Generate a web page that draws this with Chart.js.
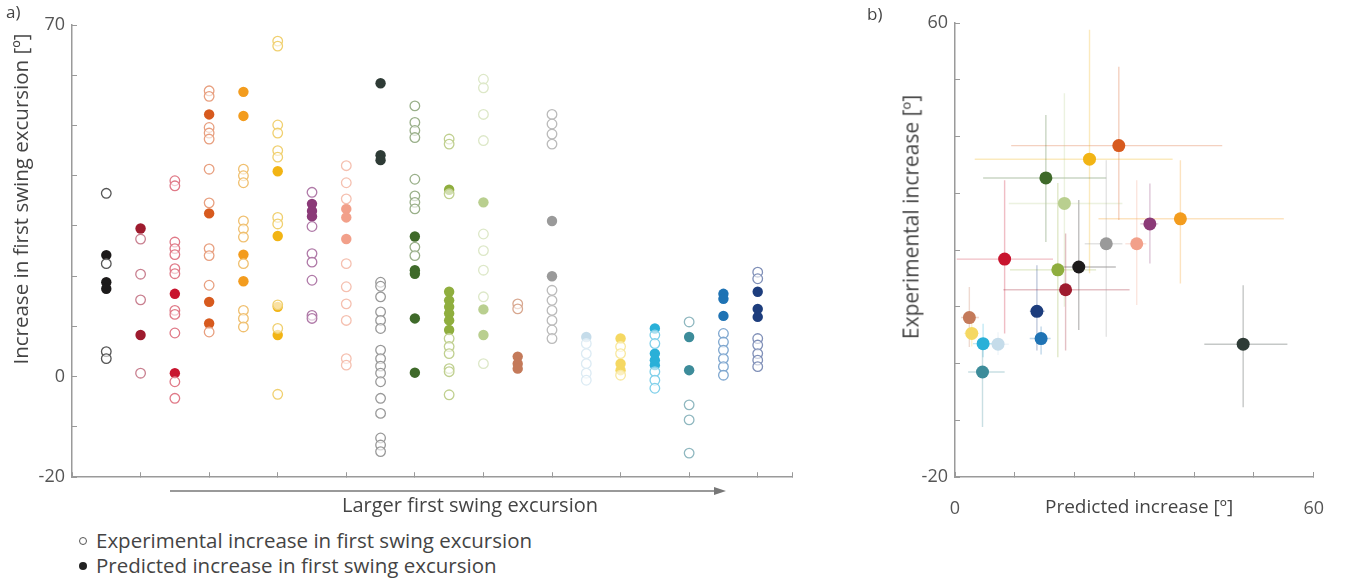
<!DOCTYPE html>
<html>
<head>
<meta charset="utf-8">
<script src="https://cdn.jsdelivr.net/npm/chart.js@4"></script>
<style>
  body { margin: 0; background: #fff; width: 1355px; height: 585px; position: relative; overflow: hidden; font-family: 'Open Sans', sans-serif; color: #444; }
  canvas { position: absolute; }
  .txt { position: absolute; white-space: nowrap; font-size: 20px; color: #444; line-height: 1; }
  .rot { transform-origin: center; transform: translate(-50%, -50%) rotate(-90deg); }
  .dot { display: inline-block; width: 8px; height: 8px; border-radius: 50%; box-sizing: border-box; margin-right: 9px; vertical-align: middle; position: relative; top: -2px; }
</style>
</head>
<body>
<canvas id="chartA" width="800" height="500" style="left:0;top:0"></canvas>
<canvas id="chartB" width="470" height="540" style="left:880px;top:0"></canvas>

<div class="txt" style="left:6px;top:3px;font-size:17px">a)</div>
<div class="txt" style="left:867px;top:5px;font-size:17px">b)</div>
<div class="txt rot" style="left:20px;top:199px;font-size:20.5px">Increase in first swing excursion [º]</div>
<div class="txt rot" style="left:911px;top:217px;font-size:21px">Experimental increase [º]</div>
<div class="txt" style="left:342px;top:495px">Larger first swing excursion</div>
<div class="txt" style="left:1045px;top:497px;font-size:19px">Predicted increase [º]</div>
<svg style="position:absolute;left:0;top:0" width="800" height="520">
  <line x1="170" y1="491" x2="718" y2="491" stroke="#777" stroke-width="1.5"/>
  <polygon points="726,491 714,487 714,495" fill="#777"/>
</svg>
<div class="txt" style="left:79px;top:530px;font-size:20.5px"><span class="dot" style="border:1.6px solid #555"></span>Experimental increase in first swing excursion</div>
<div class="txt" style="left:79px;top:555px;font-size:20.5px"><span class="dot" style="background:#222"></span>Predicted increase in first swing excursion</div>

<script>
// Colores de cada columna (de menor a mayor excursion)
const colColors = ['#1c1a1a', '#9e1b2e', '#c8142e', '#d75a1e', '#f39c1e', '#f2b414', '#8b3a78', '#f2a08a', '#2e3b36', '#3f6a2a',
                   '#8fae3e', '#b9cf8f', '#c47a5a', '#9a9a9a', '#c5dcea', '#f5d862', '#29b0d8', '#3d8c9a', '#1f73b4', '#1d3d7d'];
const openColors = ['#555', '#c98090', '#e07a88', '#e8a080', '#f0c070', '#f0d070', '#b07aa8', '#f5c0b0', '#999', '#9ab08a',
                    '#c0d090', '#dde8c8', '#d8a890', '#bbb', '#dcebf4', '#f8e8a0', '#80d0ea', '#90b8c0', '#80a8d0', '#8090b8'];

// Panel a: valores experimentales (abiertos) y predichos (rellenos) por columna
const experimental = [
    [36.5, 22.5, 5.0, 3.6],
    [27.4, 20.4, 15.3, 0.7],
    [39.0, 38.0, 26.8, 25.5, 24.3, 21.5, 20.5, 13.2, 12.4, 8.7, -1.0, -4.3],
    [56.9, 55.8, 49.6, 48.5, 47.3, 41.3, 34.6, 25.5, 24.1, 18.2, 8.9],
    [41.3, 40.0, 38.6, 31.0, 29.4, 27.8, 22.5, 13.2, 11.6, 9.9],
    [66.8, 65.8, 50.1, 48.5, 45.0, 43.7, 31.7, 30.4, 14.3, 9.6, -3.5],
    [36.7, 29.9, 24.5, 22.8, 19.2, 12.2, 11.6],
    [42.0, 38.6, 35.4, 22.5, 17.9, 14.5, 11.2, 3.6, 2.3],
    [18.8, 18.0, 15.9, 12.9, 11.2, 9.6, 5.3, 3.6, 2.1, 0.7, -1.0, -4.3, -7.3, -12.2, -13.6, -14.9],
    [53.9, 50.6, 49.0, 47.6, 39.3, 36.0, 34.7, 33.4, 25.8, 24.1],
    [47.3, 46.3, 36.4, 7.6, 6.0, 4.6, 1.6, 1.0, -3.6],
    [59.2, 57.5, 52.2, 47.0, 28.4, 25.1, 21.2, 15.9, 2.6],
    [14.5, 13.5],
    [52.2, 50.3, 48.3, 46.3, 17.2, 15.2, 13.2, 11.2, 9.3, 7.6],
    [6.6, 4.6, 2.6, 0.7, -0.7],
    [6.0, 4.6, 0.3],
    [8.3, 6.6, 1.0, -0.7, -2.3],
    [10.9, -5.6, -8.6, -15.2],
    [8.6, 6.9, 5.3, 3.6, 2.0, 0.3],
    [20.8, 19.5, 7.6, 6.3, 4.6, 3.3, 2.0]
];
const predicted = [
    [24.2, 18.8, 17.5],
    [29.5, 8.3],
    [16.5, 0.7],
    [52.2, 32.5, 14.9, 10.6],
    [56.7, 51.9, 24.3, 19.0],
    [40.9, 28.0, 13.9, 8.3],
    [34.4, 33.0, 31.9],
    [33.4, 31.7, 27.4],
    [58.4, 44.1, 43.1],
    [27.9, 21.2, 20.5, 11.6, 0.8],
    [37.2, 16.9, 15.2, 13.9, 12.6, 11.2, 9.3],
    [34.7, 13.4, 8.3],
    [4.0, 2.6, 1.6],
    [31.0, 20.0],
    [7.9],
    [7.6, 2.6, 1.3],
    [9.6, 4.6, 3.3, 2.3],
    [7.9, 1.3],
    [16.5, 15.5, 12.1],
    [16.9, 13.5, 11.9]
];
const yTickLabelsA = [70, 0, -20];

// Panel b: medias y barras de error
const predMean = [20.7, 18.5, 8.3, 27.4, 37.7, 22.5, 32.6, 30.4, 48.2, 15.2, 17.2, 18.3, 2.4, 25.3, 7.2, 2.8, 4.7, 4.6, 14.4, 13.7];
const expMean  = [17.0, 13.0, 18.4, 38.4, 25.5, 36.0, 24.6, 21.1, 3.4, 32.7, 16.5, 28.2, 8.1, 21.1, 3.4, 5.3, 3.5, -1.5, 4.4, 9.2];
const predLow  = [17.5, 8.1, 0.3, 9.4, 24.0, 3.3, 31.0, 28.5, 41.7, 4.7, 9.2, 9.0, 1.0, 21.7, 5.5, 1.5, 3.0, 2.2, 12.5, 12.5];
const predHigh = [26.9, 29.2, 16.4, 44.7, 55.0, 36.4, 34.0, 32.0, 55.6, 25.3, 23.6, 28.0, 4.0, 28.0, 9.0, 4.0, 6.5, 8.3, 16.0, 15.0];
const expLow   = [5.9, 2.3, 5.3, 25.3, 14.1, 15.9, 17.6, 10.3, -7.7, 21.4, 1.1, 10.0, 2.9, 4.7, 1.5, 3.0, 1.1, -11.2, 1.6, 2.3];
const expHigh  = [28.8, 22.9, 32.3, 52.3, 35.8, 58.8, 31.7, 32.3, 13.8, 43.8, 31.8, 47.6, 13.5, 35.8, 5.5, 7.5, 7.0, 2.9, 6.5, 17.3];
const yTickLabelsB = [60, -20];
const xTickLabelsB = [0, 60];

const axisColor = '#9a9a9a';
const tickFont = { family: 'Open Sans', size: 18 };

function fade(hex, alpha) {
    const n = parseInt(hex.slice(1), 16);
    return `rgba(${(n >> 16) & 255}, ${(n >> 8) & 255}, ${n & 255}, ${alpha})`;
}

function axisOpts(min, max, step, labels, extra) {
    return Object.assign({
        min: min,
        max: max,
        border: { color: axisColor, width: 1.5 },
        grid: { drawOnChartArea: false, tickLength: -5, color: axisColor, tickWidth: 1 },
        ticks: {
            stepSize: step,
            autoSkip: false,
            maxRotation: 0,
            color: '#555',
            font: tickFont,
            padding: 12,
            callback: v => labels.includes(v) ? String(v) : ''
        }
    }, extra);
}

// Panel a
const datasetsA = [];
experimental.forEach((vals, i) => {
    datasetsA.push({
        data: vals.map(v => ({ x: i + 1, y: v })),
        pointRadius: 4.8,
        pointBorderWidth: 1.3,
        pointBackgroundColor: 'rgba(255,255,255,0.6)',
        pointBorderColor: openColors[i]
    });
});
predicted.forEach((vals, i) => {
    datasetsA.push({
        data: vals.map(v => ({ x: i + 1, y: v })),
        pointRadius: 5.2,
        pointBorderWidth: 0,
        pointBackgroundColor: colColors[i],
        pointBorderColor: colColors[i]
    });
});

new Chart(document.getElementById('chartA'), {
    type: 'scatter',
    data: { datasets: datasetsA },
    options: {
        responsive: false,
        animation: false,
        layout: { padding: { top: 25, right: 8, left: 0, bottom: 0 } },
        plugins: { legend: { display: false }, tooltip: { enabled: false } },
        scales: {
            x: axisOpts(0, 21, 2, [], { afterFit: s => { s.height = 22; } }),
            y: axisOpts(-20, 70, 10, yTickLabelsA, { afterFit: s => { s.width = 72; } })
        }
    }
});
// sin etiquetas en el eje x
Chart.getChart('chartA').options.scales.x.ticks.display = false;
Chart.getChart('chartA').update();

// Panel b
const errorBars = {
    id: 'errorBars',
    beforeDatasetsDraw(chart) {
        const { ctx, scales: { x, y } } = chart;
        ctx.save();
        ctx.lineWidth = 1.4;
        predMean.forEach((px, i) => {
            const cx = x.getPixelForValue(px);
            const cy = y.getPixelForValue(expMean[i]);
            ctx.strokeStyle = fade(colColors[i], 0.28);
            ctx.beginPath();
            ctx.moveTo(x.getPixelForValue(predLow[i]), cy);
            ctx.lineTo(x.getPixelForValue(predHigh[i]), cy);
            ctx.moveTo(cx, y.getPixelForValue(expLow[i]));
            ctx.lineTo(cx, y.getPixelForValue(expHigh[i]));
            ctx.stroke();
        });
        ctx.restore();
    }
};

new Chart(document.getElementById('chartB'), {
    type: 'scatter',
    data: {
        datasets: [{
            data: predMean.map((v, i) => ({ x: v, y: expMean[i] })),
            pointRadius: 6.5,
            pointBorderWidth: 0,
            pointBackgroundColor: colColors,
            pointBorderColor: colColors
        }]
    },
    options: {
        responsive: false,
        animation: false,
        layout: { padding: { top: 23, right: 35, left: 0, bottom: 0 } },
        plugins: { legend: { display: false }, tooltip: { enabled: false } },
        scales: {
            x: axisOpts(0, 60, 10, xTickLabelsB, { afterFit: s => { s.height = 63; } }),
            y: axisOpts(-20, 60, 10, yTickLabelsB, { afterFit: s => { s.width = 75; } })
        }
    },
    plugins: [errorBars]
});
Chart.getChart('chartB').options.scales.x.ticks.padding = 26;
Chart.getChart('chartB').update();
</script>
</body>
</html>
